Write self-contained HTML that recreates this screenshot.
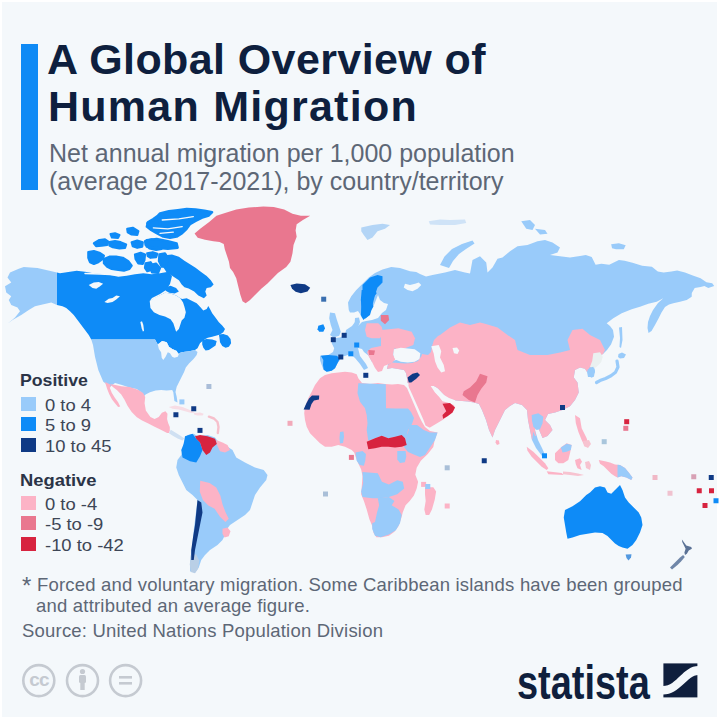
<!DOCTYPE html>
<html><head><meta charset="utf-8"><style>
*{margin:0;padding:0;box-sizing:border-box}
html,body{width:720px;height:720px;overflow:hidden;background:#fff}
body{position:relative;font-family:"Liberation Sans",sans-serif}
#card{position:absolute;left:2px;top:2px;width:715px;height:715px;background:#f4f8fb}
.t{position:absolute;white-space:nowrap}
#bar{position:absolute;left:21px;top:44px;width:17px;height:146px;background:#0f8af5}
.title{font-weight:bold;font-size:43px;color:#0e1f3e}
.sub{font-size:25px;color:#5d6776;left:49px}
.lh{font-weight:bold;font-size:17px;color:#2b3447;left:20px}
.li{font-size:16px;color:#3d4656;left:45px;transform:scaleX(1.15);transform-origin:0 0}
.sw{position:absolute;left:21px;width:15px;height:14px}
.foot{font-size:18.5px;color:#5d6776;letter-spacing:0.2px}
svg{position:absolute;left:0;top:0}
</style></head><body>
<div id="card"></div>
<svg width="720" height="720" viewBox="0 0 720 720">
<path fill="#0e8bf7"  d="M57 272.5L60 273.3L70 271.7L76.7 270.8L85 271.7L93.3 273.3L101.7 274L110 275L118.3 276.7L126.7 275.8L135 274.2L143.3 273.3L151.7 274.2L160 273.3L168.3 271.7L172 276L170 284L166 290L160 294L152 298L149.7 301.1L165 292.8L170.6 293.5L176.1 295.6L180.3 298.3L182.2 298.9L186.7 298.3L192.2 301.1L196.7 303.3L200 306.7L203.3 310.6L206.7 308.9L208.3 306.1L210 308.9L212.2 313.3L215.6 317.8L218.9 322.2L222.2 325.6L225 328.9L223.3 332.2L220 334.4L216.7 335.6L212.2 336.7L207.8 337.8L204.4 339.4L201.1 342.2L200 343.3L197.5 348.3L195 350L189.2 351.2L185 351.7L180.8 352.5L176.7 355L176.7 351.1L172.2 348.9L168.9 346.7L166.7 342.2L162.2 341.1L157.8 344.4L155 339.5L91.25 339.5L88.75 335L85 330L81.25 325L77.5 320L73.75 315L70 311.25L66.25 308L62.5 306.25L57 305Z"/>
<path fill="#0e8bf7"  d="M218.89 334.44L223.33 333.89L227.78 335.56L230.56 338.89L231.11 343.33L228.89 346.67L225.56 347.78L222.22 346.11L220 342.22L219.44 337.78Z"/>
<path fill="#0e8bf7"  d="M202.22 340L206.67 338.89L212.22 339.44L216.67 341.11L215.56 345.56L212.22 347.78L208.89 350L205.56 350.56L203.33 347.78L202.22 344.44Z"/>
<path fill="#f4f8fb"  d="M149.72 301.11L153.89 298.33L159.44 295.56L165 292.78L170.56 293.47L176.11 295.56L180.28 298.33L183.06 302.5L184.44 306.67L185.83 312.22L184.44 317.78L181.67 320.56L180.28 324.72L178.89 328.89L176.11 331.67L174.72 327.5L173.33 323.33L170.56 319.17L165 316.39L159.44 315L153.89 312.22L150.42 308.06Z"/>
<path fill="#0e8bf7"  d="M159.44 258.06L165 255.28L171.94 254.58L178.89 256.67L184.44 260.83L190 264.31L195.56 267.78L201.11 271.94L206.67 276.11L210.83 280.28L213.61 284.44L210.83 287.22L206.67 287.92L205.28 291.39L206.67 295.56L203.89 298.33L198.33 295.56L194.17 291.39L188.61 288.61L184.44 287.22L181.67 284.44L178.89 280.28L174.72 277.5L170.56 274.72L166.39 271.94L163.61 267.78L160.83 263.61Z"/>
<path fill="#0e8bf7"  d="M165 287.22L170.56 285.83L176.11 287.92L178.89 291.39L174.72 293.47L169.17 292.78L165.69 290.69Z"/>
<path fill="#0e8bf7" stroke="#0e8bf7" stroke-width="2.2" stroke-linejoin="round" d="M88.3 252.2L93.9 251.1L99.4 252.8L103.9 255.6L102.8 258.9L98.3 262.2L93.9 263.9L90 262.2L88.3 257.8Z"/>
<path fill="#0e8bf7" stroke="#0e8bf7" stroke-width="2.2" stroke-linejoin="round" d="M103.9 258.9L109.4 256.7L116.1 256.7L122.8 257.8L128.3 261.1L131.7 265.6L129.4 268.9L123.9 270.6L118.3 270L111.7 268.9L107.2 266.7L103.9 263.3Z"/>
<path fill="#0e8bf7" stroke="#0e8bf7" stroke-width="2.2" stroke-linejoin="round" d="M93.9 243.3L99.4 240L105 239.4L108.3 241.7L107.2 245L101.7 245.6L96.1 246.1Z"/>
<path fill="#0e8bf7" stroke="#0e8bf7" stroke-width="2.2" stroke-linejoin="round" d="M109.4 242.2L115 241.1L120.6 242.2L126.1 244.4L125 247.8L119.4 248.3L112.8 247.2L109.4 245.6Z"/>
<path fill="#0e8bf7" stroke="#0e8bf7" stroke-width="2.2" stroke-linejoin="round" d="M110.6 234L115 233.3L119.4 235L118 237.8L112 237.5Z"/>
<path fill="#0e8bf7" stroke="#0e8bf7" stroke-width="2.2" stroke-linejoin="round" d="M127.22 228.89L132.78 227.78L138.33 231.11L137.22 235L131.67 234.44L127.78 232.22Z"/>
<path fill="#0e8bf7" stroke="#0e8bf7" stroke-width="2.2" stroke-linejoin="round" d="M131.67 242.22L137.22 240.56L142.78 242.22L142.22 246.67L137.22 247.78L132.78 246.11Z"/>
<path fill="#0e8bf7" stroke="#0e8bf7" stroke-width="2.2" stroke-linejoin="round" d="M135 254.44L140.56 252.78L145 254.44L144.44 260L142.78 263.89L138.33 263.33L135.56 258.89Z"/>
<path fill="#0e8bf7" stroke="#0e8bf7" stroke-width="2.2" stroke-linejoin="round" d="M145.56 263.33L150.56 262.22L152.78 265.56L151.67 270L147.22 271.11L145 267.78Z"/>
<path fill="#0e8bf7" stroke="#0e8bf7" stroke-width="2.2" stroke-linejoin="round" d="M147.22 253.33L152.78 252.22L157.22 253.89L156.11 257.22L150.56 257.78L147.78 256.11Z"/>
<path fill="#0e8bf7" stroke="#0e8bf7" stroke-width="2.2" stroke-linejoin="round" d="M145 241.11L151.67 239.44L158.33 240.56L162.78 243.33L161.67 248.89L156.11 250L149.44 248.33L145.56 245Z"/>
<path fill="#0e8bf7" stroke="#0e8bf7" stroke-width="2.2" stroke-linejoin="round" d="M160 213.3L168.9 211.1L177.8 210L186.7 208.9L195.6 209.4L204.4 210.6L212.2 212.2L208.9 215.6L202.2 217.8L195.6 221.1L190 224.4L186.7 228.9L182.2 233.3L176.7 236.7L170 237.8L163.3 236.7L156.7 233.3L151.1 230L146.7 226.7L147.8 222.2L153.3 218.9L157.8 215.6Z"/>
<path fill="#0e8bf7" stroke="#0e8bf7" stroke-width="2.2" stroke-linejoin="round" d="M147.2 223.3L153.9 220L160 219L160 229L155 230L150 228Z"/>
<path fill="#0e8bf7" stroke="#0e8bf7" stroke-width="2.2" stroke-linejoin="round" d="M146.7 240L156.7 238.9L167.8 241.1L176.7 243.3L177.8 247.8L167.8 248.9L156.7 247.8L146.7 246.7Z"/>
<path fill="#0e8bf7" stroke="#0e8bf7" stroke-width="2.2" stroke-linejoin="round" d="M159.4 254.4L165 253.3L168 258L166 266.7L161.7 266.7L158.9 261.1Z"/>
<path fill="#0e8bf7" stroke="#0e8bf7" stroke-width="2.2" stroke-linejoin="round" d="M150 265L156 263.5L160 268L158 273L152 272.5Z"/>
<path fill="none" stroke="#f4f8fb" stroke-width="1.3" stroke-linecap="round" stroke-linejoin="round" d="M162.22 220L178.89 218.89L193.33 216.67"/>
<path fill="none" stroke="#f4f8fb" stroke-width="1.3" stroke-linecap="round" stroke-linejoin="round" d="M153.33 227.78L167.78 228.89L182.22 226.67"/>
<path fill="none" stroke="#f4f8fb" stroke-width="1.2" stroke-linecap="round" stroke-linejoin="round" d="M160 233.33L173.33 232.22"/>
<path fill="none" stroke="#f4f8fb" stroke-width="1.4" stroke-linecap="round" stroke-linejoin="round" d="M85 273.5L100 274L115 274.8L130 273.5"/>
<path fill="#f4f8fb"  d="M88.75 285L93.75 282.5L98.75 281.88L103.12 283.75L100 286.25L96.25 288.75L92.5 288.12Z"/>
<path fill="#f4f8fb"  d="M104.38 301.88L108.75 298.75L112.5 298.12L116.25 295.62L120 296.25L116.25 299.38L112.5 301.88L107.5 303.12Z"/>
<path fill="#f4f8fb"  d="M140.33 322L142 321.33L143.33 325L144 330.33L143 331.67L141.67 328.33Z"/>
<path fill="#99cbfa"  d="M23.75 267L37.5 268L57 272.5L57 305L51.25 302.5L42.5 304.5L35 306.25L28.75 310L21.25 315L12.5 320L7.5 323.75L15 317.5L20 311.25L17.5 307.5L11.25 305L8.75 300L11.25 296.25L6.25 292.5L5 286.25L11.25 282.5L7.5 277.5L10 272.5L18.75 268.75Z"/>
<path fill="#99cbfa"  d="M91.25 339.5L155 339.5L157.8 344.4L162.2 341.1L166.7 342.2L168.9 346.7L172.2 348.9L176.7 351.1L176.7 355L180.8 352.5L185 351.7L189.2 351.2L195 350L197.5 352L196.7 355L193.3 359.2L189.2 363.3L185.8 367.5L184.2 371.7L181.7 376.7L179.2 381.7L176.7 386.7L175.5 392L176.7 396.7L177.5 402.5L174.4 401.1L173.3 392.2L172.2 390L166.7 390.6L161.1 390L155.6 390.6L150 392.2L145.6 394.4L143.3 396.7L141.1 392.2L136.7 388.9L130 387.8L122 385L115 383L110 386.7L103.3 381.7L98.3 370L95 356.7L93 345Z"/>
<path fill="#f4f8fb"  d="M157.8 344.4L162.2 341.1L166.7 342.2L168.9 346.7L172.2 348.9L176.7 351.1L178.9 353.9L177.8 356.7L174.4 357.8L172.2 356.7L170 353.3L167.8 352.2L165.6 356.7L163.3 360L161.7 357.8L161.1 352.2L158.9 348.9Z"/>
<path fill="#e9778f"  d="M194.58 233.54L200.83 228.33L209.17 222.08L216.46 215.83L225.83 212.71L236.25 209.58L248.75 207.5L263.33 206.46L273.75 207.08L284.17 209.58L292.5 213.75L300.83 215.83L310.21 215.83L302.92 220L296.67 224.17L295.62 230.42L296.67 236.67L293.54 245L292.5 253.33L290.42 261.67L286.25 266.88L282.08 270L277.92 273.12L272.71 278.33L267.5 283.54L261.25 288.75L255 295L249.79 300.21L245.62 303.33L242.5 301.25L240.42 295L238.33 286.67L236.25 278.33L233.12 272.08L230 267.92L228.96 261.67L226.88 255.42L224.79 249.17L223.75 243.96L219.58 241.88L213.33 241.25L205 239.79L197.71 237.71Z"/>
<path fill="#0f3a85"  d="M290.42 285L296.67 283.54L305 284.17L310.21 287.71L307.5 291.46L300.83 293.33L295.62 291.67L292.08 288.75Z"/>
<path fill="#fcb3c6"  d="M109.79 384.17L112.92 384.58L121.25 386.25L129.58 387.08L137.92 389.79L143.12 392.92L145.21 397.08L144.58 403.33L145.83 410.62L150.42 416.88L154.58 418.96L158.75 416.88L161.88 412.71L165.42 411.25L167.5 413.75L167.08 418.96L168.12 423.12L169.79 426.88L169.79 430.83L168.96 433.12L167.08 432.92L160.83 429.79L154.58 426.67L148.33 423.54L142.08 420.42L136.88 417.29L131.67 412.08L127.5 405.83L124.38 399.58L121.25 394.38L117.08 390.21L112.92 387.08Z"/>
<path fill="#cfe0f2"  d="M168.9 433.2L172.8 435.7L177.6 438.6L182.5 440.6L184.4 438.6L180.5 435.7L175.7 432.8L170.8 429.8Z"/>
<path fill="#fcb3c6"  d="M105 382.08L109.79 384.17L110.83 386.67L109.79 387.71L111.88 392.92L115 398.12L118.12 402.29L120.21 406.46L118.12 407.08L115 403.33L111.88 399.17L109.17 393.96L107.08 388.75Z"/>
<path fill="#f7dde5"  d="M168.75 406.88L175 405.62L182.5 406.88L190 410L195 412.5L191.25 413.12L185 411.25L178.75 409.38L172.5 408.75Z"/>
<path fill="#f7dde5"  d="M193.75 413.12L200 412.5L203.75 413.75L202.5 415.62L197.5 415.62L194.38 414.75Z"/>
<path fill="none" stroke="#f6c0cc" stroke-width="2.4" stroke-linecap="round" stroke-linejoin="round" d="M208.9 416.7L214 418.5L217.5 422L218.5 427L217.8 433"/>
<path fill="#99cbfa"  d="M187.5 435L193.75 433.75L197.5 436.25L207.5 435L215 437.5L218.75 442.5L225 445L232.5 450L236.25 457.5L245 462.5L255 467.5L263.75 470L267.5 475L266.25 480L260 487.5L255 495L252.5 502.5L250 510L245 515L237.5 520L230 525L226.25 530L225 535L222.5 540L217.5 545L210 550L205 555L201.25 560L198.75 567.5L195 572.5L190 571.25L190 562.5L191.25 552.5L192.5 542.5L193.75 530L195 520L196.25 510L197.5 500L192.5 495L186.25 490L182.5 482.5L178.75 475L176.25 467.5L177.5 460L181.25 455L182.5 450L183.75 442.5Z"/>
<path fill="#0e8bf7"  d="M185 436.25L192.5 433.75L196.25 438.75L200 442.5L202.5 450L200 456.25L196.25 462.5L190 461.25L182.5 457.5L181.25 450L183.75 443.75Z"/>
<path fill="#d7233f"  d="M195 436.25L200 435L207.5 436.25L215 438.75L217 443.75L212.5 447.5L210 452.5L206.25 455L202.5 450L200 442.5L196.25 438.75Z"/>
<path fill="#fcb3c6"  d="M216.25 440L222.5 442.5L227.5 445L230 450L225 452.5L220 451.25L217 445Z"/>
<path fill="#fcb3c6"  d="M200.21 480.83L209.58 482.92L216.25 487.5L220.42 495.83L222.5 504.17L225.42 512.08L228.75 518.75L225.42 522.08L220 516.67L214.58 508.75L208.33 505.42L202.92 500L199.79 491.67Z"/>
<path fill="#b9cfe6"  d="M190.83 555.21L196.04 554.17L199.17 560.42L198.12 568.75L195 573.33L190.83 571.88L189.79 564.58Z"/>
<path fill="#fcb3c6"  d="M222.5 528.75L227.5 527.5L230.5 531.25L228.75 536.25L224.5 537.5L222.5 533.75Z"/>
<path fill="#0f3a85"  d="M197.5 500L201.25 502.5L202.5 512.5L200 525L197.5 537.5L195 550L193.75 560L191.25 560L191.25 550L193 537.5L195 525L196.25 512.5Z"/>
<path fill="#99cbfa"  d="M348.75 310L348 302.5L351.25 296.25L356.25 290L362.5 283.75L368.75 277.5L375 273L382.5 269.5L391.25 267L400 268L410 271.25L416.25 272L420 274L426 276.5L432.5 275L438.75 273.75L445 272.5L450 271.25L455 270L460 271.25L465 272.5L470 273.5L472.5 260L480 256.25L486.25 262.5L487.5 272.5L492.5 267.5L497.5 258.75L502.5 257.5L510 251.25L517.5 246.25L527.5 245L537.5 241.25L545 240L552.5 242.5L560 247.5L557.5 252.5L550 255L560 256.25L570 257.5L580 256L585.8 255L591.7 257L595.6 264.7L601.4 263.7L609.2 264.7L618.9 259.9L624.7 260.8L632.5 262.8L642.2 265.7L651.9 266.7L657.8 271.5L663.6 272.5L671.4 271.5L677.2 270.6L685 272.5L692.8 275.4L700.6 278.3L706.4 282.2L712.2 283.2L714.2 286.1L708.3 288L704.4 286.1L700.6 287.1L694.7 288L691.8 292.9L691.7 296.7L686.7 300L680 301.7L673.3 303.3L669 304.5L665 307L661.5 312.5L658.5 318.5L655 325L651.5 331L648.5 333L647.5 328L648 322L650 316L653 310L658 303L663.3 298.3L656.7 301.7L648.3 303.7L640 306.7L631.7 309.2L621.7 313.3L613.3 318.3L606.7 323.3L610 326L613 330L614 336.7L611 344.4L607 350L603 354L599.4 356L596 361L594 366L595 372L592 377L588 377L587 372L585 368.75L580 367.5L575 370L573.75 377.5L577.5 382.5L578.75 392.5L575 400L570 406.25L562.5 410L555 412.5L548 414L545 420L550 425L552.5 430L547.5 436L542.5 438L540 432L537 425L535 430L538 440L542 448L545 455L542 456L536 448L532 440L530 430L528 420L527 410L522 405L515 403L510 406L505 410L500 420L495 430L492.5 437.5L489 430L486 420L482 410L479 404L474 402.5L468 401.5L462 401L456 400.5L450 399L446 397L442 393L438 388.5L434 386L428 386L420 384L412 384L407.5 383L407 378L406 373L404 370L398 369L392 368L387 369L388 364L392 361L398 359.5L395 357L390 355L386 356L381 352L378 355L375 360L372 362L369 356L364 352L362 349L358 348L360 356L366 364L368 368L364 370L360 364L355 358L350 354L345 356L340 356.7L338 357L340 360L337.5 363.3L335 368.3L331.7 370.8L326.7 371.7L323.3 369.2L321.7 365L320 360L320 355.8L328.3 355L333 352L334.2 348.3L331.7 343.3L333.3 338.3L340 337.5L345 335L346 330L352 326L355 322L358 326L362 322L366 321L372 320L378 318L382 313L386 310L388 304L384 303L380 300L378 295L374 305L370 314L366 318L362 318L360 314L358 311L354 312.5L350 312.5Z"/>
<path fill="#f4f8fb"  d="M405 283.75L410 285L415 283.75L418.75 282.5L421.25 285L417.5 288.75L412.5 291.25L407.5 290L403.75 287.5Z"/>
<path fill="#99cbfa"  d="M330 312.5L335 313.3L336.7 319.2L339.2 326.7L340.8 331.7L339.2 335.8L333.3 337.5L330 335L332.5 330L330.8 325L329.2 318.3Z"/>
<path fill="#0e8bf7"  d="M318.33 325.83L323.33 324.17L325 328.33L323.33 331.67L319.17 331.67L317.5 329.17Z"/>
<path fill="#0e8bf7"  d="M361.67 290L375 290L376.67 293.33L371.67 300L373.33 306.67L370 311.67L366.67 316.67L363.33 320L360.83 315L361.67 306.67L360.83 300Z"/>
<path fill="#0e8bf7"  d="M362.5 285L370 277.5L377.5 275L382.5 276.25L382.5 282.5L377.5 287.5L375 295L372.5 305L370 315L365 318.75L361.25 312.5L361.25 300L362.5 292.5Z"/>
<path fill="#0e8bf7"  d="M320.83 355.83L328.33 355L336.67 355.83L340 358.33L337.5 363.33L335 368.33L331.67 370.83L326.67 371.67L323.67 369.67L323 365L323.33 360Z"/>
<path fill="#fcb3c6"  d="M366.67 323.33L378.33 323.33L381.67 326.67L383.33 333.33L380 338.33L371.67 338.33L366.67 336.67L365 330Z"/>
<path fill="#fcb3c6"  d="M381.67 330L398.33 328.33L411.67 331.67L415 338.33L413.33 345L405 348.33L398.33 350L391.67 346.67L385 343.33L381.67 338.33Z"/>
<path fill="#fcb3c6"  d="M381 333L390 333L395 338L396 345L394 350L393.2 354.7L395.3 359.6L392 362.8L388 364.5L384 366L382 371L378 372L375 368L372 362L369 357L367 352L371 348L376 347L381 346Z"/>
<path fill="#e9778f"  d="M368.3 350L375 350.5L374 355L369 355Z"/>
<path fill="#99cbfa"  d="M355 318L359 317.5L360 322L358 327L354.5 327Z"/>
<path fill="#e9778f"  d="M380.83 315L388.33 315L389.17 320L385 324.17L380.83 320.83Z"/>
<path fill="#f4f8fb"  d="M393.9 349.2L400.8 347.8L407.8 348.5L414.7 349.2L420.3 353.3L419.6 358.9L414.7 361.7L407.8 362.4L400.8 361.7L395.3 359.6L393.2 354.7Z"/>
<path fill="#fcb3c6"  d="M440 335L450 327.5L460 322.5L470 325L480 322.5L485 323.75L497.5 327.5L507.5 335L515 340L517.5 350L530 355L547.5 355L560 352.5L570 350L567.5 340L572.5 330L582.5 328.75L590 335L600 340L605 350L603 354L599.4 356L596 361L594 366L593 369L588 369L587 372L585 368.75L580 367.5L575 370L573.75 377.5L577.5 382.5L578.75 392.5L575 400L570 406.25L562.5 410L555 412.5L548 414L545 420L550 425L552.5 430L547.5 436L542.5 438L540 432L537 425L535 430L536 436L533 436L532 440L530 430L528 420L527 410L522 405L515 403L510 406L505 410L500 420L495 430L492.5 437.5L489 430L486 420L482 410L479 404L474 402.5L468 401.5L462 401L456 400.5L450 399L446 397L442 393L438 388.5L434 386L428 386L420 384L412 384L407.5 383L407 378L406 373L404 370L398 369L392 368L387 369L388 365L392 362.5L398 363L405 363.5L412 363L418 361L421.5 356L422 354L428 355L431 352L432 346L434 340L438 336Z"/>
<path fill="#f4f8fb"  d="M431.25 346.25L438.75 345L441.25 351.25L440 357.5L443.75 365L445 371.25L441.25 372.5L437.5 367.5L435 361.25L433.75 353.75Z"/>
<path fill="#f4f8fb"  d="M452.5 348L457 347.5L459.25 350.5L457.5 354L454 353.25Z"/>
<path fill="#fcb3c6"  d="M496 440L499 440.5L499.5 444L497 445L495.5 442.5Z"/>
<path fill="#99cbfa"  d="M531.67 415L538.33 413.33L543.33 416.67L542.5 423.33L540 429.17L536.67 430L533.33 426.67L532 420.83Z"/>
<path fill="#99cbfa"  d="M533.33 431.67L536.67 440L540 446.67L543.33 451.67L541.67 453.33L538.33 450L535 443.33L532.5 436.67Z"/>
<path fill="#eaf0f0"  d="M593.3 353.3L600 352.2L602.8 356.7L601.1 362.2L596.7 366.7L593.3 368.9L590 366.7L592.2 361.1Z"/>
<path fill="#99cbfa"  d="M588.9 367.8L593.3 366.7L595 371.1L593.9 376.7L591.1 377.8L589.1 374.4Z"/>
<path fill="#e9778f"  d="M480 373.75L487.5 376.25L486.25 382.5L481.25 388.75L477.5 395L475 402.5L468.75 400L462.5 395L463.75 391.25L470 387.5L476.25 381.25Z"/>
<path fill="#fcb3c6"  d="M408.75 382.5L417.5 381.25L423.75 380L430 385L432.5 388.75L435 392.5L438.75 396.25L442.5 401.25L447.5 402.5L453.75 405L455 407.5L452.5 412.5L447.5 416.25L442.5 420L436.25 423.75L430 427.5L426.25 430L422.5 427.5L420 422.5L417.5 416.25L415 410L412.5 402.5L410 395L408.1 388.75Z"/>
<path fill="#f4f8fb"  d="M432 386.5L436 387.5L440 391L444 395L449 398L455 400.2L454 402.8L448 401.8L443.5 400.8L440.5 398L437.5 395L434.5 391Z"/>
<path fill="#f4f8fb"  d="M405.6 385.5L407.6 384.5L412 394L416 403L420 412L423.5 420L425.5 425.5L432 429L439 431.5L438.5 432.8L430 431L424 428.5L421 424L417.5 416L413.5 407L409.5 397Z"/>
<path fill="#d7233f"  d="M442.5 403.75L450 403.1L455 407.5L452.5 412.5L447.5 416.25L443.1 418.75L442.5 415L446.25 411.25Z"/>
<path fill="#0f3a85"  d="M407.5 377.5L412.5 373.75L417.5 372.5L420 375L416.25 378.75L411.25 382.5L408.75 382.5Z"/>
<path fill="#fcb3c6"  d="M320 378.3L325 375L331.7 373.3L338.3 372.5L345 371.7L351.7 372.5L356.7 374.2L358.3 378.3L362 383L370 384L378 383L385 384L392 384.5L398 384L404 385L407 388L410 395L413 402L416 409L419 416L422 422L425 427L430 431L437.5 432.5L434.7 440L433.3 446.9L427.8 453.9L420.8 460.8L416.7 467.8L415.3 474.7L418.1 481.7L416.7 488.6L413.9 495.6L409.7 501.1L405.6 505.3L402.8 512.2L401.4 517.8L398.6 526.1L394.4 531.7L388.9 535.8L381.9 537.2L376.4 537.2L373.6 533.1L372.2 526.1L369.4 519.2L366.7 509.4L363.9 501.1L361.1 494.2L361.8 485.8L362.5 476.1L361.1 469.2L358.3 463.6L355.6 456.7L354.2 452.5L351.7 450L345 446.7L338.3 445L331.7 446.7L325 446.7L320 443.3L315 438.3L310 433.3L306.7 426.7L305 420L304.2 413.3L305 406.7L308.3 398.3L311.7 391.7L315 385Z"/>
<path fill="#0f3a85"  d="M303.6 409.5L306.5 403L309 398.5L312 395.6L319.2 395.6L319 399.6L314 400.6L311.5 404L309.6 409.7Z"/>
<path fill="#99cbfa"  d="M358.3 383.3L385.8 384.2L386 408.3L396 408.5L408 408.5L411 412L414 418L412 424L408 430L406.7 436.7L405 438.3L395 436.7L388.3 438.3L381.7 435.8L375 438.3L368.3 440.8L366.7 430L367.5 423.3L366.7 415L365 408.3L360 401.7L357.5 393.3Z"/>
<path fill="#99cbfa"  d="M410 425L417 425L423.75 430L430 432.5L437.5 432.5L435 440L430 447.5L425 455L420 457L415 455L408 452L404 447L405 440L408 432Z"/>
<path fill="#99cbfa"  d="M397.22 451.11L405.56 451.11L406.25 456.67L404.86 462.22L400 462.92L397.22 459.44Z"/>
<path fill="#99cbfa"  d="M340 432L343.5 431.5L344 437L343 443L340 443.5L339.5 438Z"/>
<path fill="#d7233f"  d="M366.7 441.7L375 438.3L381.7 435.8L388.3 438.3L395 436.7L401.7 435L405 438.3L406.7 445L401.7 446.7L395 447.5L388.3 446.7L381.7 446.7L375 448.3L368.3 449.2Z"/>
<path fill="#99cbfa"  d="M355.56 452.5L362.5 451.11L365.97 453.89L365.28 460.83L363.89 465.69L359.72 465L356.67 460.83Z"/>
<path fill="#99cbfa"  d="M362.5 471.94L377.78 473.33L381.94 481.67L388.89 484.44L397.22 480.28L402.78 481.67L404.17 488.61L397.22 494.17L388.89 496.94L380.56 498.33L372.22 498.33L362.5 496.94L361.11 491.39L363.19 483.06Z"/>
<path fill="#99cbfa"  d="M377.78 498.33L388.89 496.94L394.44 501.11L391.67 505.28L398.61 509.44L401.67 515L400 523.33L395.83 530.28L388.89 534.44L380.56 537.22L375 535.83L372.22 528.89L372.22 523.33L375 521.94L377.08 512.22L379.17 505.28Z"/>
<path fill="#fcb3c6"  d="M425 487.22L433.33 487.22L436.11 491.39L434.72 499.72L431.94 509.44L429.17 515L425.69 515L424.31 509.44L425.69 501.11L425 494.17Z"/>
<path fill="#fcb3c6"  d="M526.67 446.67L533.33 451.67L540 458.33L545 463.33L548.33 468.33L546.67 470L541.67 466.67L536.67 461.67L531.67 456.67L527.5 450.83Z"/>
<path fill="#fcb3c6"  d="M546.67 471.33L561.67 473L563.67 475L548.33 474.33Z"/>
<path fill="#fcb3c6"  d="M555 453.33L561.67 446.67L566.67 443.33L571.67 445L570 453.33L568.33 460L563.33 463.33L558.33 463.33L555 460Z"/>
<path fill="#99cbfa"  d="M560.83 447.5L566.67 443.67L571.67 445L570.83 450L566.67 451.67L562.5 452.5Z"/>
<path fill="#fcb3c6"  d="M575 460L580 458.33L582 461.67L580 465L581.67 470L577.5 468.33L575.83 464.17Z"/>
<path fill="#fcb3c6"  d="M575 415L580 418.33L581.67 428.33L586.67 438.33L588.33 445L585 446.67L581.67 440L578.33 431.67L575.83 423.33Z"/>
<path fill="#fcb3c6"  d="M598.75 460L605 461.25L610 462.5L615 464.4L620 465L625 468.1L628.75 472.5L632.5 477.5L631.25 480L626.25 477.5L621.25 476.25L617.5 477.5L615 476.25L611.25 473.75L607.5 470L603.75 466.25L600 463.75Z"/>
<path fill="#99cbfa"  d="M617.5 464.8L620 465L625 468.1L628.75 472.5L632.5 477.5L631.25 480L626.25 477.5L621.25 476.25L617.5 477.5Z"/>
<path fill="#f7c3d0"  d="M563 471.5L570 472L578 473.5L584 475L578 476L570 475L563 474.2Z"/>
<path fill="#f7c3d0"  d="M585 462L589 461L591 465L590 470L586 468Z"/>
<path fill="#f7c3d0"  d="M583 441L589 440L591 444L588 448L584 446Z"/>
<path fill="none" stroke="#99cbfa" stroke-width="3.2" stroke-linecap="round" stroke-linejoin="round" d="M617 361L618 367L615.6 372.2L611 375.8L605.6 378.5L600 380.6L596.5 382.5"/>
<path fill="#99cbfa"  d="M618.5 354L622 352.5L626 354.5L624 358L620 358.5L618 357Z"/>
<path fill="#99cbfa"  d="M619 327.5L622 327L622.5 340L621 348L619.5 347L620 338Z"/>
<path fill="#0e8bf7"  d="M565 510L572.5 506.25L580 501.25L586.25 495L590 492.5L595 487.5L600 486.25L605 487.5L607.5 492.5L611.25 493.75L615 490L620 485L622.5 490L625 497.5L628.75 502.5L633.75 507.5L638.75 512.5L641.25 517.5L642.5 525L640 532.5L636.25 540L632.5 545L627.5 548.75L622.5 547.5L618.75 546L615 543.5L612.5 541L607.5 536L602.5 533L595 532.5L587.5 533.75L580 535L572.5 537.5L567.5 538.75L566.25 532.5L565 525L563.75 517.5Z"/>
<path fill="#5399e0"  d="M625.6 554.6L631.5 554.2L631 557.5L628.5 560.5L626.5 558Z"/>
<path fill="#5b7296"  d="M681.9 539.4L683.75 541.9L686.25 545.6L691.25 546.9L691.9 548.75L688.75 550.6L686.9 553.75L685 555L684.4 552.5L685.6 548.75L683.75 545L682.25 541.9Z"/>
<path fill="#6f86a8"  d="M670 567.5L675 562.5L680 557.5L683.1 555L684.8 557L681.25 561.25L677.5 565L672 569.6Z"/>
<path fill="#b3d5f6"  d="M361.25 227.5L372.5 225L382.5 223.75L390 225L385 228.75L377.5 231.25L372.5 237.5L367.5 240L363.75 235L361.25 231.25Z"/>
<path fill="#99cbfa"  d="M440 265L444.5 256.5L452 249L462 244L472.5 240.5L474.5 243.5L466 249L459 254L453 261L449 268Z"/>
<path fill="#99cbfa"  d="M521.25 221.25L530 220L535 225L532.5 230L526.25 228.75Z"/>
<path fill="#99cbfa"  d="M535 228.75L545 230L547.5 233.75L540 234.5Z"/>
<path fill="#99cbfa"  d="M611.11 244.3L618.89 243.33L625.69 245.28L623.75 249.17L615.97 249.17L612.08 248.19Z"/>
<path fill="#cfe3f7"  d="M428.75 221.25L440 219.5L450 220L465 219.5L466.25 223L455 225L440 225L430 224.5Z"/>
<rect fill="#0f3a85" x="173.4" y="412.25" width="5" height="5"/>
<rect fill="#0f3a85" x="191.25" y="406.25" width="5" height="5"/>
<rect fill="#0f3a85" x="197.5" y="427.9" width="5" height="5"/>
<rect fill="#99cbfa" x="179.4" y="399.4" width="5" height="5"/>
<rect fill="#a9bdd8" x="206.4" y="384.0" width="5" height="5"/>
<rect fill="#3a6fb0" x="321.2" y="296.7" width="5" height="5"/>
<rect fill="#0f3a85" x="330.8" y="337.2" width="5" height="5"/>
<rect fill="#0f3a85" x="338.3" y="354.5" width="5" height="5"/>
<rect fill="#0f3a85" x="341.7" y="332.8" width="5" height="5"/>
<rect fill="#0f3a85" x="363.3" y="372.8" width="5" height="5"/>
<rect fill="#0e8bf7" x="348.3" y="351.3" width="5" height="5"/>
<rect fill="#0e8bf7" x="354.2" y="342.5" width="5" height="5"/>
<rect fill="#e9778f" x="348.9" y="454.9" width="5" height="5"/>
<rect fill="#a9bfd8" x="444.7" y="465.3" width="5" height="5"/>
<rect fill="#fcb3c6" x="421.1" y="481.9" width="5" height="5"/>
<rect fill="#99cbfa" x="425.3" y="484.0" width="5" height="5"/>
<rect fill="#fcb3c6" x="444.7" y="503.5" width="5" height="5"/>
<rect fill="#f2a9b9" x="287.5" y="420.8" width="5" height="5"/>
<rect fill="#a9bfd8" x="323.0" y="491.5" width="5" height="5"/>
<rect fill="#0f3a85" x="481.75" y="458.25" width="5" height="5"/>
<rect fill="#0f3a85" x="560.0" y="405.0" width="5" height="5"/>
<rect fill="#0e8bf7" x="542.0" y="453.3" width="5" height="5"/>
<rect fill="#a9c6dc" x="601.7" y="439.2" width="5" height="5"/>
<rect fill="#d7233f" x="624.2" y="419.2" width="5" height="5"/>
<rect fill="#e9778f" x="623.3" y="425.8" width="5" height="5"/>
<rect fill="#f0b8c6" x="652.5" y="475.0" width="5" height="5"/>
<rect fill="#d7a1b5" x="691.25" y="474.25" width="5" height="5"/>
<rect fill="#0f3a85" x="708.75" y="475.0" width="5" height="5"/>
<rect fill="#d7233f" x="696.75" y="488.25" width="5" height="5"/>
<rect fill="#d7233f" x="709.0" y="488.25" width="5" height="5"/>
<rect fill="#0e8bf7" x="713.5" y="498.25" width="5" height="5"/>
<rect fill="#d7233f" x="702.5" y="503.0" width="5" height="5"/>
<rect fill="#f0c2cf" x="667.5" y="490.75" width="5" height="5"/>
</svg>
<div id="bar"></div>
<div class="t title" style="top:35px;left:47px;letter-spacing:0.4px">A Global Overview of</div>
<div class="t title" style="top:82px;left:48px;letter-spacing:1.25px">Human Migration</div>
<div class="t sub" style="top:139px">Net annual migration per 1,000 population</div>
<div class="t sub" style="top:167px">(average 2017-2021), by country/territory</div>
<div class="t lh" style="top:371px;transform:scaleX(1.04);transform-origin:0 0">Positive</div>
<div class="sw" style="top:397px;background:#99cbfa"></div>
<div class="sw" style="top:417px;background:#0e8bf7"></div>
<div class="sw" style="top:438px;background:#0f3a85"></div>
<div class="t li" style="top:397px">0 to 4</div>
<div class="t li" style="top:417px">5 to 9</div>
<div class="t li" style="top:438px">10 to 45</div>
<div class="t lh" style="top:471px;transform:scaleX(1.08);transform-origin:0 0">Negative</div>
<div class="sw" style="top:496px;background:#fcb3c6"></div>
<div class="sw" style="top:516px;background:#e9778f"></div>
<div class="sw" style="top:537px;background:#d7233f"></div>
<div class="t li" style="top:496px">0 to -4</div>
<div class="t li" style="top:516px">-5 to -9</div>
<div class="t li" style="top:537px">-10 to -42</div>
<div class="t foot" style="top:574px;left:22px"><span style="font-size:24px;position:relative;top:3px;line-height:0">*</span> Forced and voluntary migration. Some Caribbean islands have been grouped</div>
<div class="t foot" style="top:595px;left:36px">and attributed an average figure.</div>
<div class="t foot" style="top:620px;left:22px">Source: United Nations Population Division</div>
<svg width="720" height="720" viewBox="0 0 720 720" style="pointer-events:none">
<g fill="none" stroke="#c5cad1" stroke-width="2.6">
<circle cx="38.8" cy="680.6" r="15.5"/><circle cx="82.5" cy="680.6" r="15.5"/><circle cx="125.6" cy="680.6" r="15.5"/>
</g>
<text x="39" y="686.3" font-family="Liberation Sans" font-weight="bold" font-size="19" letter-spacing="-0.8" fill="#c5cad1" text-anchor="middle">cc</text>
<g fill="#c5cad1"><circle cx="82.5" cy="671.5" r="2.6"/><rect x="79" y="675" width="7" height="8" rx="1.5"/><rect x="80.3" y="681" width="4.4" height="9"/></g>
<g fill="#c5cad1"><rect x="119" y="676" width="13" height="2.6"/><rect x="119" y="682" width="13" height="2.6"/></g>
<rect x="663.4" y="663.4" width="34" height="34" fill="#0f1f3d"/>
<path d="M663 686 C 677 686, 683 666, 698.5 666 L 698.5 675 C 687 675, 680 694.5, 663 694.5 Z" fill="#f4f8fb"/>
</svg>
<div class="t" id="logo" style="left:517px;top:659px;font-weight:bold;font-size:48px;line-height:48px;color:#0f1f3d;transform:scaleX(0.79);transform-origin:0 0;letter-spacing:0px">statista</div>
</body></html>
